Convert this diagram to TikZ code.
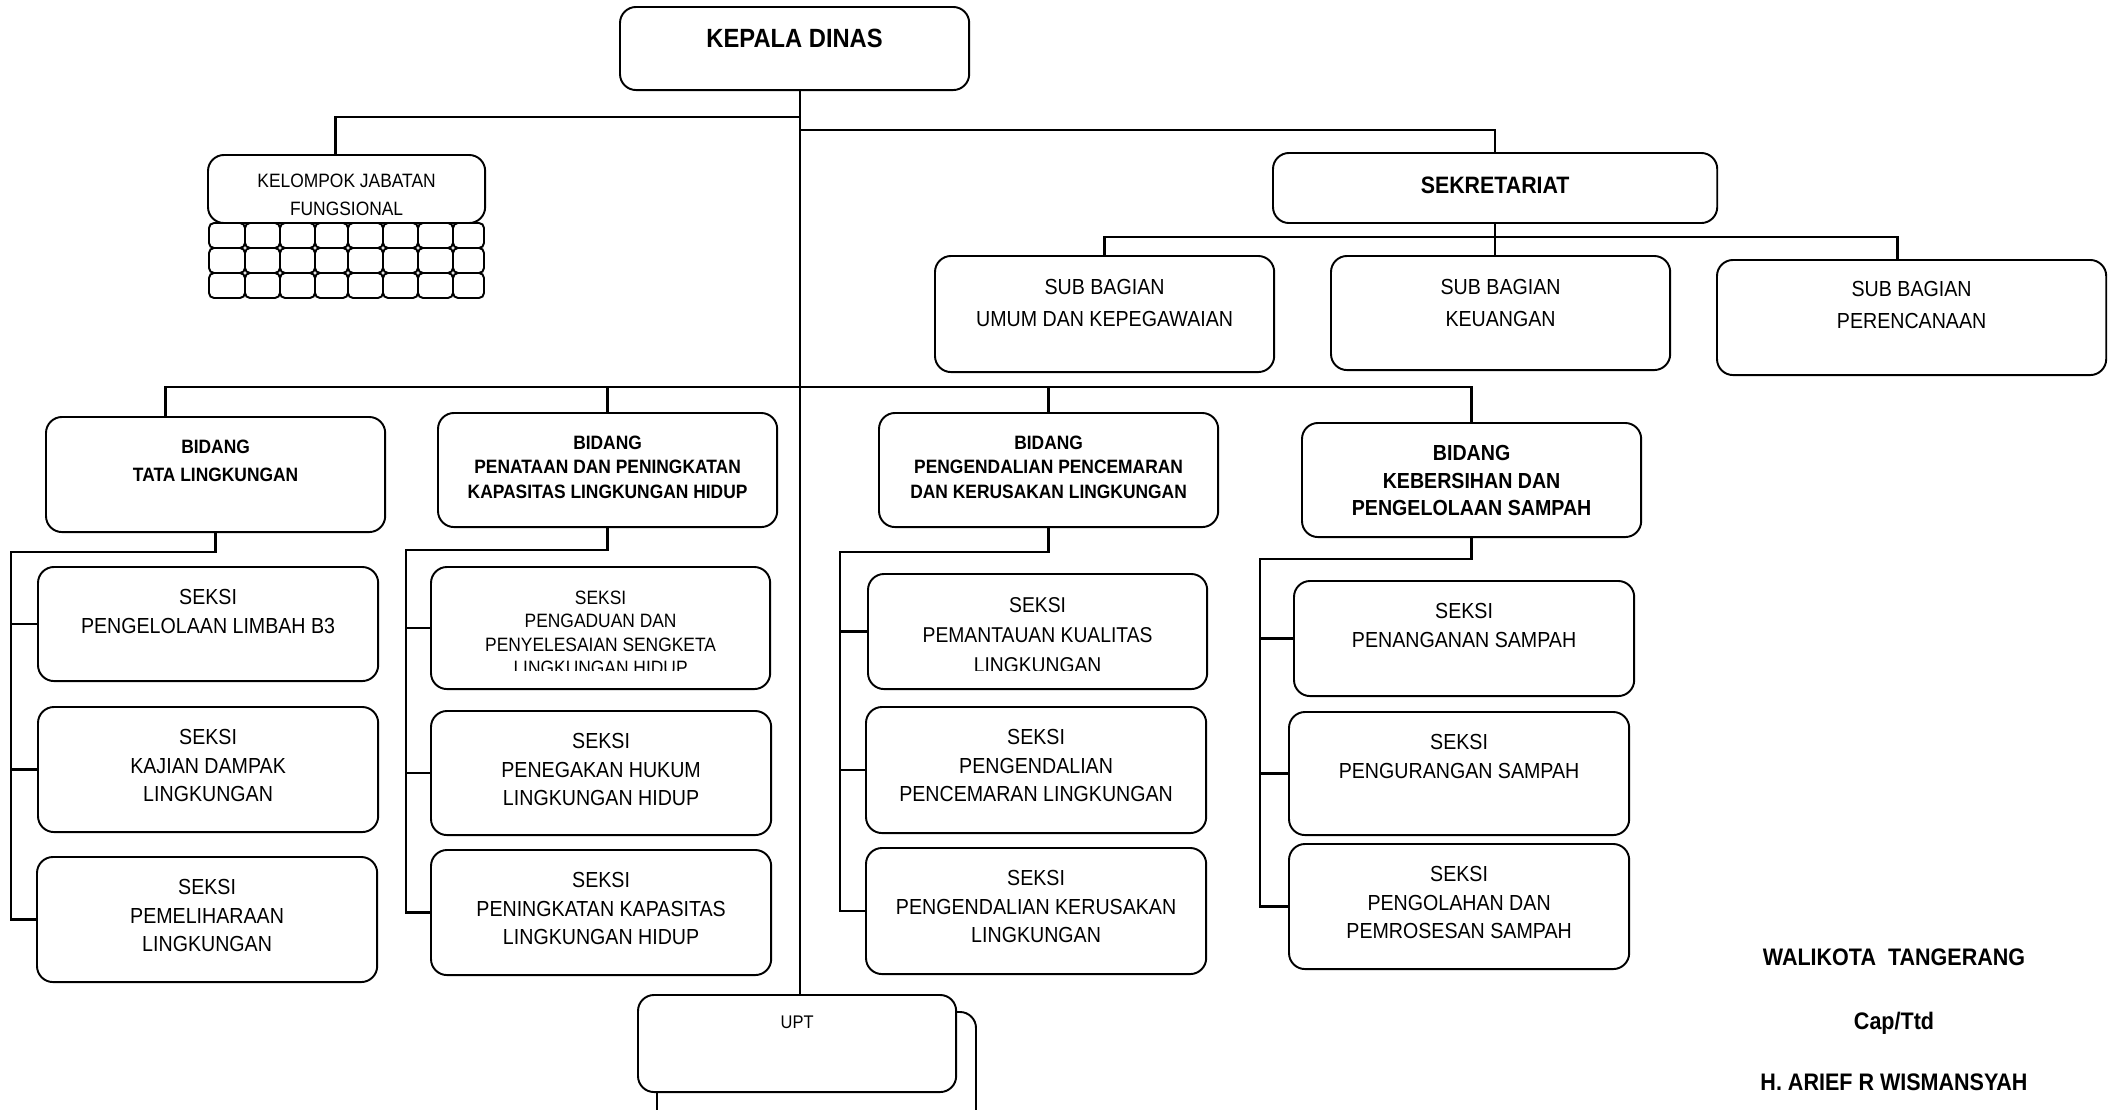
\documentclass[tikz,border=0pt]{standalone}
\usepackage{fontspec}
\newfontfamily\orgfont[FakeStretch=0.9]{Liberation Sans}
\usetikzlibrary{calc}

\begin{document}
\begin{tikzpicture}[
    x=0.01cm, y=-0.01cm,
    box/.style={
        draw,
        fill=white,
        rounded corners=0.16cm,
        line width=0.55pt,
        inner sep=0pt, outer sep=0pt,
        anchor=north west,
      },
    seksi/.style={box, minimum width=3.40cm},
    bidang/.style={box, minimum width=3.39cm, minimum height=1.14cm},
    cell/.style={line width=0.55pt, rounded corners=0.05cm},
    link/.style={line width=0.7pt},
    ltxt/.style={align=center, inner sep=0pt, anchor=north,
        font=\orgfont\fontsize{6.2}{8}\selectfont},
    stxt/.style={ltxt, yshift=-0.22cm},
    head/.style={stxt, font=\orgfont\bfseries\fontsize{5.5}{7}\selectfont},
    subtxt/.style={ltxt, font=\orgfont\fontsize{6.2}{9}\selectfont},
    sign/.style={inner sep=0pt, anchor=base, font=\orgfont\bfseries\fontsize{6.8}{8}\selectfont}
  ]
  \useasboundingbox (0,0) rectangle (2108,1110);

  % top
  \node[box, minimum width=3.49cm, minimum height=0.83cm,
    label={[ltxt, yshift=-0.21cm, font=\orgfont\bfseries\fontsize{7.5}{9}\selectfont]north:KEPALA DINAS}] (kd) at (620,7) {};
  \node[box, minimum width=4.44cm, minimum height=0.70cm,
    label={[ltxt, yshift=-0.23cm, font=\orgfont\bfseries\fontsize{6.75}{8}\selectfont]north:SEKRETARIAT}] (sek) at (1273,153) {};
  \node[box, minimum width=2.77cm, minimum height=0.68cm,
    label={[ltxt, yshift=-0.18cm, font=\orgfont\fontsize{5.5}{8}\selectfont]north:{KELOMPOK JABATAN\\FUNGSIONAL}}] (kjf) at (208,155) {};
  \foreach \xa/\xb in {209/245,245/280,280/315,315/348,348/383,383/418,418/453,453/484}
  \foreach \ya in {223,248,273}
  \draw[cell] (\xa,\ya) rectangle (\xb,\ya+25);

  % sub bagian
  \node[box, minimum width=3.39cm, minimum height=1.16cm,
    label={[subtxt, yshift=-0.23cm]north:{SUB BAGIAN\\UMUM DAN KEPEGAWAIAN}}] (sb1) at (935,256) {};
  \node[box, minimum width=3.39cm, minimum height=1.14cm,
    label={[subtxt, yshift=-0.23cm]north:{SUB BAGIAN\\KEUANGAN}}] (sb2) at (1331,256) {};
  \node[box, minimum width=3.89cm, minimum height=1.15cm,
    label={[subtxt, yshift=-0.21cm]north:{SUB BAGIAN\\PERENCANAAN}}] (sb3) at (1717,260) {};

  % bidang
  \node[bidang, minimum height=1.15cm,
    label={[head, font=\orgfont\bfseries\fontsize{5.5}{8}\selectfont]north:{BIDANG\\TATA LINGKUNGAN}}] (b1) at (46,417) {};
  \node[bidang,
    label={[head]north:{BIDANG\\PENATAAN DAN PENINGKATAN\\KAPASITAS LINGKUNGAN HIDUP}}] (b2) at (438,413) {};
  \node[bidang,
    label={[head]north:{BIDANG\\PENGENDALIAN PENCEMARAN\\DAN KERUSAKAN LINGKUNGAN}}] (b3) at (879,413) {};
  \node[bidang,
    label={[head, font=\orgfont\bfseries\fontsize{6.2}{7.8}\selectfont]north:{BIDANG\\KEBERSIHAN DAN\\PENGELOLAAN SAMPAH}}] (b4) at (1302,423) {};

  % seksi
  \foreach \nm/\xa/\ya/\h/\txt in {
      s11/38/567/1.14/{SEKSI\\PENGELOLAAN LIMBAH B3},
      s12/38/707/1.25/{SEKSI\\KAJIAN DAMPAK\\LINGKUNGAN},
      s13/37/857/1.25/{SEKSI\\PEMELIHARAAN\\LINGKUNGAN},
      s22/431/711/1.24/{SEKSI\\PENEGAKAN HUKUM\\LINGKUNGAN HIDUP},
      s23/431/850/1.25/{SEKSI\\PENINGKATAN KAPASITAS\\LINGKUNGAN HIDUP},
      s32/866/707/1.26/{SEKSI\\PENGENDALIAN\\PENCEMARAN LINGKUNGAN},
      s33/866/848/1.26/{SEKSI\\PENGENDALIAN KERUSAKAN\\LINGKUNGAN},
      s41/1294/581/1.15/{SEKSI\\PENANGANAN SAMPAH},
      s42/1289/712/1.23/{SEKSI\\PENGURANGAN SAMPAH},
      s43/1289/844/1.25/{SEKSI\\PENGOLAHAN DAN\\PEMROSESAN SAMPAH}}
  \node[seksi, minimum height=\h cm, label={[stxt]north:\txt}] (\nm) at (\xa,\ya) {};

  \node[seksi, minimum width=3.39cm, minimum height=1.22cm] (s21) at (431,567) {};
  \node[seksi, minimum width=3.39cm, minimum height=1.15cm] (s31) at (868,574) {};
  \begin{scope}
    \clip (s21.north west) rectangle ($(s21.south east)+(0,-19)$);
    \node[ltxt, font=\orgfont\fontsize{5.5}{6.7}\selectfont] (t21) at ($(s21.north)+(0,23)$)
      {SEKSI\\PENGADUAN DAN\\PENYELESAIAN SENGKETA\\LINGKUNGAN HIDUP};
  \end{scope}
  \begin{scope}
    \clip (s31.north west) rectangle ($(s31.south east)+(0,-19)$);
    \node[ltxt, font=\orgfont\fontsize{6.1}{8.5}\selectfont] (t31) at ($(s31.north)+(0,23)$)
      {SEKSI\\PEMANTAUAN KUALITAS\\LINGKUNGAN};
  \end{scope}

  % upt
  \draw[line width=0.55pt, rounded corners=0.16cm, fill=white] (657,1012) rectangle (976,1130);
  \node[box, minimum width=3.18cm, minimum height=0.97cm,
    label={[ltxt, yshift=-0.20cm, font=\orgfont\fontsize{5.2}{7}\selectfont]north:UPT}] (upt) at (638,995) {};

  % lines
  \coordinate (hub) at (800,117);
  \coordinate (hubr) at (800,130);
  \coordinate (sbus) at (1500,237);
  \coordinate (bbus) at (800,387);
  \draw[link] (kd.south -| hub) -- (upt.north -| hub);
  \draw[link] (hub) -| ($(kjf.north)+(-11,0)$);
  \draw[link] (hubr) -| (sek.north);
  \draw[link] (sek.south) -- (sek.south |- sb2.north);
  \draw[link] (sb1.north) |- (sbus) -| ($(sb3.north)+(-14,0)$);
  \draw[link] ($(b1.north)+(-50,0)$) |- (bbus) -| (b4.north);
  \draw[link] (b2.north) -- (b2.north |- bbus);
  \draw[link] (b3.north) -- (b3.north |- bbus);
  \foreach \c/\sx/\sy in {1/11/552, 2/406/550, 3/840/552, 4/1260/559} {
    \coordinate (sp\c) at (\sx,\sy);
    \draw[link] (b\c.south) |- (sp\c) -- (sp\c |- s\c3.west) -- (s\c3.west);
    \draw[link] (sp\c |- s\c1.west) -- (s\c1.west);
    \draw[link] (sp\c |- s\c2.west) -- (s\c2.west);
  }

  % tanda tangan
  \node[sign] (wk) at (1894,966) {WALIKOTA\ \ TANGERANG};
  \node[sign] (cap) at (1894,1030) {Cap/Ttd};
  \node[sign] (nama) at (1894,1091) {H. ARIEF R WISMANSYAH};
\end{tikzpicture}
\end{document}
